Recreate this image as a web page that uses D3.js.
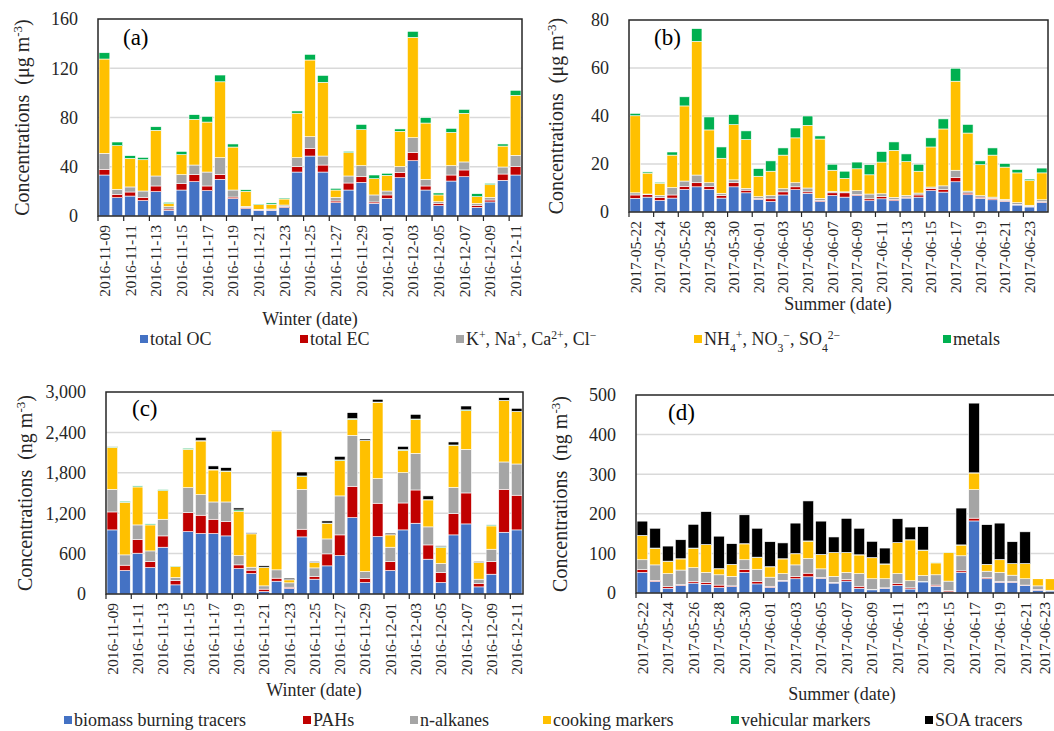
<!DOCTYPE html>
<html>
<head>
<meta charset="utf-8">
<script src="https://cdn.jsdelivr.net/npm/d3@7"></script>
<style>
  body { margin: 0; background: #fff; }
  svg { display: block; font-family: "Times New Roman", "Liberation Serif", serif; }
</style>
</head>
<body>
<svg id="chart" width="1054" height="731"></svg>
<script>
// categories
const winterDays = d3.utcDay.range(new Date(Date.UTC(2016, 10, 9)), new Date(Date.UTC(2016, 11, 12)));
const summerDaysB = d3.utcDay.range(new Date(Date.UTC(2017, 4, 22)), new Date(Date.UTC(2017, 5, 25)));
const summerDaysD = d3.utcDay.range(new Date(Date.UTC(2017, 4, 22)), new Date(Date.UTC(2017, 5, 24)));
const fmt = d3.utcFormat("%Y-%m-%d");

// (a) winter PM2.5 components, ug m-3
const winterOC = [33.3,14.9,16.2,12.5,19.8,4.6,21.1,27.9,20.6,29.8,14.1,6.0,4.6,4.6,6.8,35.7,48.7,35.7,10.8,21.1,27.3,10.3,14.3,31.1,44.9,21.1,8.4,28.4,31.9,7.0,11.4,29.0,33.3];
const winterEC = [4.6,2.7,3.3,2.7,4.6,1.1,5.2,5.7,3.8,4.0,1.3,1.0,0.3,0.3,0.8,4.4,6.3,5.7,1.4,5.7,4.6,1.1,2.8,4.4,6.8,3.3,1.9,4.9,5.5,1.4,1.6,5.1,6.8];
const winterIons = [13.0,4.1,4.1,5.1,8.1,1.9,7.3,7.8,11.3,13.6,5.7,0.8,0.5,0.8,1.3,7.3,9.4,7.3,3.0,5.7,9.0,5.7,3.2,4.6,11.9,5.4,1.3,7.6,6.5,1.9,2.2,5.7,9.2];
const winterSNA = [76.6,35.4,23.2,25.4,37.1,2.4,16.2,37.1,40.6,61.6,34.9,12.2,3.8,3.8,4.9,36.1,62.3,59.9,5.9,18.9,29.2,13.2,12.7,28.7,81.5,45.7,5.5,27.0,39.5,5.4,10.2,17.0,48.7];
const winterMetals = [5.1,3.0,2.2,1.9,2.9,1.1,2.7,3.8,4.6,5.5,2.5,1.3,0.5,1.1,0.8,1.8,4.6,5.6,1.4,1.1,4.3,3.0,1.7,1.9,4.9,4.4,1.6,3.3,3.2,2.4,1.1,1.7,4.1];

// (b) summer PM2.5 components, ug m-3
const summerOC = [5.7,6.2,4.8,5.8,9.4,10.5,9.4,5.8,10.5,8.0,5.3,4.4,7.1,9.3,7.8,4.3,6.9,6.2,6.8,4.7,5.5,4.7,5.8,6.2,8.9,8.3,12.6,7.2,5.7,5.1,4.4,2.9,2.1,4.0];
const summerEC = [1.4,1.0,1.2,1.3,1.3,1.7,1.3,1.1,1.7,1.1,0.4,1.1,1.3,1.2,0.6,0.5,1.1,1.8,0.5,0.8,1.0,0.6,0.4,0.9,0.9,1.0,1.8,0.7,0.5,0.6,0.4,0.3,0.3,0.3];
const summerIons = [0.9,0.3,0.9,3.1,2.2,3.2,1.5,0.9,1.2,0.7,0.7,1.3,1.3,1.7,1.6,0.9,0.6,0.4,1.6,2.0,1.1,0.8,0.7,0.8,0.6,1.6,3.0,0.8,0.6,0.5,0.5,0.7,0.4,0.8];
const summerSNA = [32.1,8.7,5.1,13.5,31.3,55.7,22.0,14.6,23.0,20.4,8.5,10.2,14.0,18.7,26.1,24.7,8.8,5.6,9.1,8.0,13.2,19.6,14.1,9.1,16.7,23.7,37.1,24.2,12.9,17.5,13.4,12.4,10.3,11.2];
const summerMetals = [1.0,0.5,0.4,1.3,3.8,5.3,5.4,4.7,4.2,3.6,3.2,4.3,3.0,4.1,3.9,1.3,2.5,3.0,2.8,4.2,4.4,3.5,3.2,2.9,3.8,4.2,5.4,3.6,1.6,3.0,1.5,1.4,0.6,2.0];

// (c) winter organic tracers, ng m-3
const winterBB = [952,349,606,393,695,136,927,898,898,863,378,304,37,190,82,848,220,418,571,1135,171,853,349,952,1051,517,171,878,1041,106,294,917,952];
const winterPAH = [267,79,203,89,168,64,282,272,212,213,55,50,35,45,19,114,40,178,307,465,59,495,133,400,494,212,148,316,460,50,188,638,515];
const winterAlk = [336,153,217,158,247,45,371,306,257,291,138,44,49,124,65,593,128,222,579,757,104,366,213,451,544,268,134,391,648,64,183,406,464];
const winterCook = [623,781,564,386,426,163,569,796,475,455,658,495,272,2062,44,188,79,233,524,237,1944,1127,183,331,505,400,237,623,574,247,346,910,777];
const winterVeh = [10,15,15,15,14,10,15,5,10,5,20,5,4,5,3,10,3,3,10,10,3,10,5,10,5,5,15,5,12,3,15,5,5];
const winterSOA = [2,0,0,0,0,5,0,50,50,50,29,10,21,5,22,59,12,31,53,89,21,40,20,49,69,55,10,45,57,12,10,40,45];

// (d) summer organic tracers, ng m-3
const summerBB = [52,29,12,19,25,22,14,16,52,23,14,30,36,41,37,25,30,12,8,12,19,10,28,17,3,52,182,36,27,27,19,7,5];
const summerPAH = [7,3,4,2,4,5,6,2,7,6,3,2,6,9,2,2,4,5,1,1,5,3,1,3,3,4,7,3,2,2,1,2,1];
const summerAlk = [25,39,33,37,35,25,26,24,25,31,23,17,29,37,22,15,18,32,27,23,25,18,15,26,24,38,72,16,23,16,16,9,1];
const summerCook = [61,42,31,28,49,70,15,30,40,30,26,37,28,44,36,60,50,47,53,37,78,103,64,30,72,27,42,17,32,29,38,18,29];
const summerVeh = [0.5,0.5,0.5,0.5,0.5,0.5,0.5,0.5,0.5,0.5,0.5,0.5,0.5,0.5,0.5,0.5,0.5,0.5,0.5,0.5,0.5,0.5,0.5,0.5,0.5,0.5,0.5,0.5,0.5,0.5,0.5,0.5,0.5];
const summerSOA = [36,50,38,48,60,83,82,52,73,73,63,40,77,101,84,39,86,67,41,40,60,32,59,0,0,93,176,100,92,55,80,0,0];

const colors1 = ["#4472C4", "#C00000", "#A5A5A5", "#FFC000", "#00B050"];
const colors2 = ["#4472C4", "#C00000", "#A5A5A5", "#FFC000", "#00B050", "#000000"];

// legend labels, as [text, "sup"|"sub"] runs
const legend1 = [
  [["total OC"]],
  [["total EC"]],
  [["K"], ["+", "sup"], [", Na"], ["+", "sup"], [", Ca"], ["2+", "sup"], [", Cl"], ["\u2212", "sup"]],
  [["NH"], ["4", "sub"], ["+", "sup"], [", NO"], ["3", "sub"], ["\u2212", "sup"], [", SO"], ["4", "sub"], ["2\u2212", "sup"]],
  [["metals"]]
];
const legend2 = [
  [["biomass burning tracers"]], [["PAHs"]], [["n-alkanes"]],
  [["cooking markers"]], [["vehicular markers"]], [["SOA tracers"]]
];

const svg = d3.select("#chart");

function richText(sel, runs) {
  runs.forEach(r => {
    const t = sel.append("tspan").text(r[0]);
    if (r[1] === "sup") t.attr("baseline-shift", "super").attr("font-size", "65%");
    if (r[1] === "sub") t.attr("baseline-shift", "sub").attr("font-size", "65%");
  });
}

function drawPanel(cfg) {
  const g = svg.append("g");
  const keys = cfg.series.map((s, i) => "s" + i);
  const rows = cfg.days.map((d, i) => {
    const r = { date: fmt(d) };
    cfg.series.forEach((s, j) => { r["s" + j] = s[i]; });
    return r;
  });
  const x = d3.scaleBand().domain(rows.map(r => r.date)).range([cfg.left, cfg.right]).paddingInner(0.16).paddingOuter(0.08);
  const y = d3.scaleLinear().domain([0, cfg.max]).range([cfg.bottom, cfg.top]);
  const step = x.step();

  // gridlines
  g.append("g").selectAll("line")
    .data(d3.range(cfg.step, cfg.max, cfg.step))
    .join("line")
    .attr("x1", cfg.left).attr("x2", cfg.right)
    .attr("y1", d => y(d)).attr("y2", d => y(d))
    .attr("stroke", "#d9d9d9").attr("stroke-width", 1.5);

  const stacked = d3.stack().keys(keys)(rows);
  g.append("g").selectAll("g")
    .data(stacked)
    .join("g")
    .attr("fill", (d, i) => cfg.colors[i])
    .selectAll("rect")
    .data(d => d)
    .join("rect")
    .attr("x", d => x(d.data.date))
    .attr("width", x.bandwidth())
    .attr("y", d => y(d[1]))
    .attr("height", d => Math.max(0, y(d[0]) - y(d[1])))
    .attr("stroke", "#fff").attr("stroke-width", 0.6);

  // frame
  g.append("rect")
    .attr("x", cfg.left).attr("y", cfg.top)
    .attr("width", cfg.right - cfg.left).attr("height", cfg.bottom - cfg.top)
    .attr("fill", "none").attr("stroke", "#262626").attr("stroke-width", 1.5);

  // y axis labels
  g.append("g").selectAll("text")
    .data(d3.range(0, cfg.max + 1e-9, cfg.step))
    .join("text")
    .attr("x", cfg.left - 20).attr("y", d => y(d))
    .attr("dy", "0.35em").attr("text-anchor", "end")
    .attr("font-size", 18).attr("fill", "#262626")
    .text(d => cfg.yFormat(d));

  // x ticks every two categories
  const tickIdx = d3.range(0, rows.length, 2);
  g.append("g").selectAll("line")
    .data(tickIdx)
    .join("line")
    .attr("x1", i => cfg.left + i * step).attr("x2", i => cfg.left + i * step)
    .attr("y1", cfg.bottom).attr("y2", cfg.bottom + 5)
    .attr("stroke", "#262626").attr("stroke-width", 1.2);

  const labelMax = cfg.labelMaxX || 1e9;
  g.append("g").selectAll("text")
    .data(tickIdx)
    .join("text")
    .attr("transform", i => `translate(${Math.min(labelMax, x(rows[i].date) + x.bandwidth() / 2)},${cfg.bottom + 9}) rotate(-90)`)
    .attr("dy", "0.35em").attr("text-anchor", "end")
    .attr("font-size", 15.5).attr("fill", "#262626")
    .text(i => rows[i].date);

  // panel letter
  g.append("text")
    .attr("x", cfg.letterX).attr("y", cfg.letterY)
    .attr("font-size", 23).attr("fill", "#000")
    .text(cfg.letter);

  // axis titles
  g.append("text")
    .attr("x", cfg.xTitleX).attr("y", cfg.xTitleY)
    .attr("dy", "0.35em").attr("text-anchor", "middle")
    .attr("font-size", 18).attr("fill", "#262626")
    .text(cfg.xTitle);

  const yt = g.append("text")
    .attr("transform", `translate(${cfg.yTitleX},${(cfg.top + cfg.bottom) / 2}) rotate(-90)`)
    .attr("dy", "0.35em").attr("text-anchor", "middle")
    .attr("font-size", 20).attr("fill", "#262626");
  richText(yt, [["Concentrations\u00a0 (" + cfg.unit + " m"], ["-3", "sup"], [")"]]);
}

function drawLegend(items, colors, xs, yc) {
  const g = svg.append("g");
  items.forEach((runs, i) => {
    g.append("rect")
      .attr("x", xs[i]).attr("y", yc - 4).attr("width", 8).attr("height", 8)
      .attr("fill", colors[i]);
    const t = g.append("text")
      .attr("x", xs[i] + 10).attr("y", yc).attr("dy", "0.35em")
      .attr("font-size", 18).attr("fill", "#262626");
    richText(t, runs);
  });
}

const fmtInt = d3.format(",");

drawPanel({
  days: winterDays, series: [winterOC, winterEC, winterIons, winterSNA, winterMetals], colors: colors1,
  left: 98, right: 522, top: 19, bottom: 216, max: 160, step: 40, yFormat: fmtInt,
  letter: "(a)", letterX: 123, letterY: 45, xTitle: "Winter (date)", xTitleX: 310, xTitleY: 319,
  yTitleX: 22, unit: "\u03bcg"
});
drawPanel({
  days: summerDaysB, series: [summerOC, summerEC, summerIons, summerSNA, summerMetals], colors: colors1,
  left: 629, right: 1048, top: 20, bottom: 212, max: 80, step: 20, yFormat: fmtInt,
  letter: "(b)", letterX: 654, letterY: 45, xTitle: "Summer (date)", xTitleX: 838, xTitleY: 304,
  yTitleX: 556, unit: "\u03bcg"
});
drawPanel({
  days: winterDays, series: [winterBB, winterPAH, winterAlk, winterCook, winterVeh, winterSOA], colors: colors2,
  left: 106, right: 523, top: 392, bottom: 594, max: 3000, step: 600, yFormat: fmtInt,
  letter: "(c)", letterX: 132, letterY: 416, xTitle: "Winter (date)", xTitleX: 314, xTitleY: 690,
  yTitleX: 25, unit: "ng"
});
drawPanel({
  days: summerDaysD, series: [summerBB, summerPAH, summerAlk, summerCook, summerVeh, summerSOA], colors: colors2,
  left: 636, right: 1057, top: 395, bottom: 593, max: 500, step: 100, yFormat: fmtInt,
  letter: "(d)", letterX: 668, letterY: 420, xTitle: "Summer (date)", xTitleX: 842, xTitleY: 694,
  yTitleX: 560, unit: "ng", labelMaxX: 1045
});

drawLegend(legend1, colors1, [140, 300, 456, 694, 943], 339);
drawLegend(legend2, colors2, [64, 303, 410, 543, 731, 925], 720);
</script>
</body>
</html>
